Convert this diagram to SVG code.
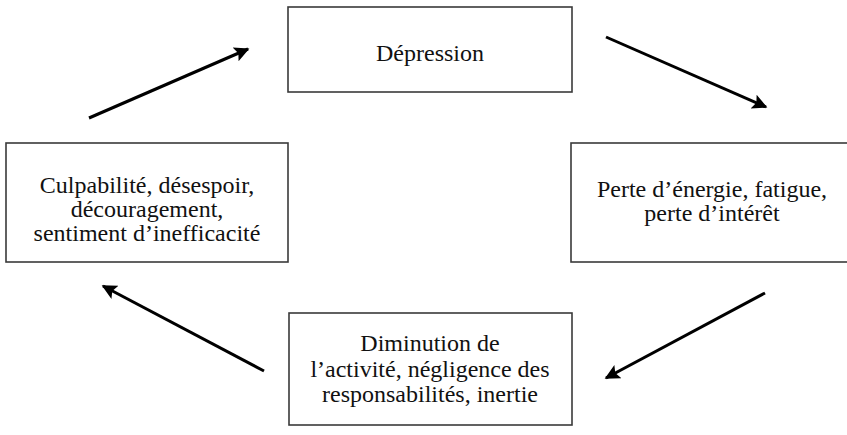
<svg xmlns="http://www.w3.org/2000/svg" width="847" height="435" viewBox="0 0 847 435">
<style>
.box{fill:#fff;stroke:#3a3a3a;stroke-width:1.6}
.t{font-family:"Liberation Serif","Times New Roman",serif;font-size:24px;fill:#111;text-anchor:middle}
.c{stroke:#000;stroke-width:3;fill:none;marker-end:url(#ah)}
</style>
<defs>
<marker id="ah" viewBox="0 0 10 10" refX="9" refY="5" markerWidth="6" markerHeight="5" markerUnits="strokeWidth" orient="auto">
<path d="M0,0 L10,5 L0,10 L2,5 Z" fill="#000"/>
</marker>
</defs>
<rect width="847" height="435" fill="#fff"/>
<g id="depression">
<rect class="box" x="288" y="7" width="284" height="85"/>
<text class="t" x="430" y="61">Dépression</text>
</g>
<g id="perte">
<rect class="box" x="571" y="143" width="278" height="119"/>
<text class="t" x="712" y="197">Perte d’énergie, fatigue,</text>
<text class="t" x="712" y="221">perte d’intérêt</text>
</g>
<g id="diminution">
<rect class="box" x="289" y="313" width="283" height="112"/>
<text class="t" x="430" y="351">Diminution de</text>
<text class="t" x="430" y="377">l’activité, négligence des</text>
<text class="t" x="430" y="402">responsabilités, inertie</text>
</g>
<g id="culpabilite">
<rect class="box" x="6" y="143" width="282" height="119"/>
<text class="t" x="147" y="193">Culpabilité, désespoir,</text>
<text class="t" x="147" y="217">découragement,</text>
<text class="t" x="147" y="241">sentiment d’inefficacité</text>
</g>
<g id="connectors">
<line class="c" x1="89" y1="118" x2="248" y2="49"/>
<line class="c" x1="606" y1="37" x2="766" y2="107"/>
<line class="c" x1="765" y1="293" x2="606" y2="378"/>
<line class="c" x1="264" y1="371" x2="103" y2="286"/>
</g>
</svg>
